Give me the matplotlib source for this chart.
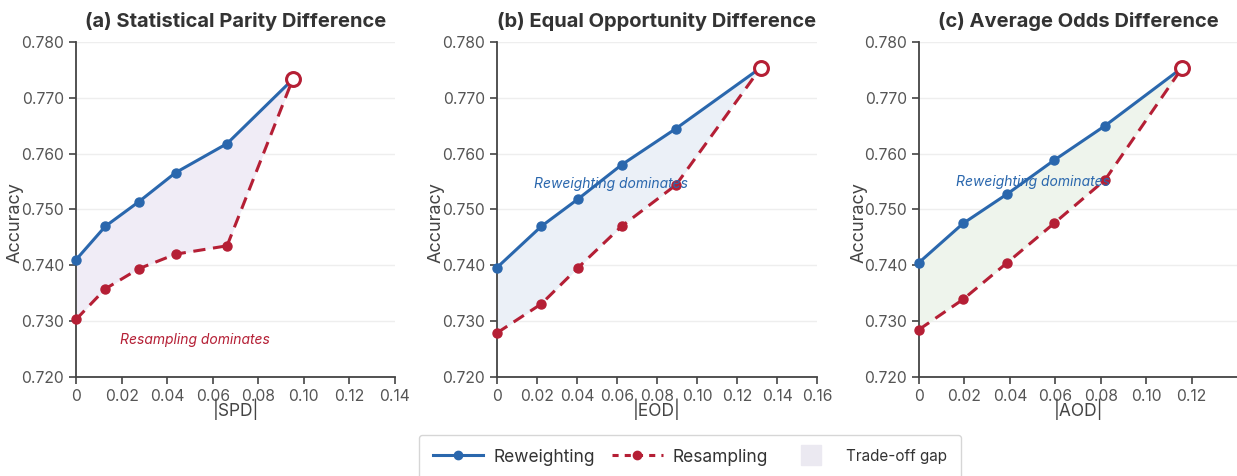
import matplotlib.pyplot as plt
from matplotlib.lines import Line2D

plt.rcParams['font.family'] = ['Inter', 'DejaVu Sans']

# values
spd_x = [0.0, 0.0129, 0.0276, 0.0437, 0.0663, 0.0951]
spd_rew = [0.7410, 0.7470, 0.7514, 0.7566, 0.7618, 0.7733]
spd_res = [0.7303, 0.7358, 0.7394, 0.7420, 0.7435, 0.7733]

eod_x = [0.0, 0.0222, 0.0406, 0.0623, 0.0895, 0.1319]
eod_rew = [0.7396, 0.7470, 0.7519, 0.7580, 0.7645, 0.7754]
eod_res = [0.7279, 0.7331, 0.7396, 0.7470, 0.7544, 0.7754]

aod_x = [0.0, 0.0194, 0.0389, 0.0594, 0.0819, 0.1159]
aod_rew = [0.7405, 0.7475, 0.7528, 0.7588, 0.7650, 0.7754]
aod_res = [0.7285, 0.7339, 0.7405, 0.7475, 0.7553, 0.7754]

titles = ["(a) Statistical Parity Difference", "(b) Equal Opportunity Difference",
          "(c) Average Odds Difference"]
xlabels = ["|SPD|", "|EOD|", "|AOD|"]
xticks = [[0, 0.02, 0.04, 0.06, 0.08, 0.10, 0.12, 0.14],
          [0, 0.02, 0.04, 0.06, 0.08, 0.10, 0.12, 0.14, 0.16],
          [0, 0.02, 0.04, 0.06, 0.08, 0.10, 0.12]]
xlims = [0.14, 0.16, 0.14]
yticks = [0.720, 0.730, 0.740, 0.750, 0.760, 0.770, 0.780]
notes = [("Resampling dominates", 0.0193, 0.7267),
         ("Reweighting dominates", 0.0185, 0.7545),
         ("Reweighting dominates", 0.0161, 0.7549)]

blue = "#2a67ad"
red = "#b51f35"
fills = ["#f0ecf6", "#ebf0f7", "#eef4ec"]
grey = "#555555"

fig = plt.figure(figsize=(12.37, 4.76), dpi=100)
lefts = [76, 497, 919]
widths = [319, 320, 318]

data = [(spd_x, spd_rew, spd_res), (eod_x, eod_rew, eod_res), (aod_x, aod_rew, aod_res)]

for i, (xs, rew, res) in enumerate(data):
    ax = fig.add_axes([lefts[i] / 1237, 1 - 377 / 476, widths[i] / 1237, 335 / 476])
    ax.fill_between(xs, res, rew, color=fills[i], zorder=1, linewidth=0)
    ax.plot(xs[:-1], rew[:-1], "-o", color=blue, lw=2.2, ms=6.5, zorder=3, clip_on=False)
    ax.plot(xs[-2:], rew[-2:], "-", color=blue, lw=2.2, zorder=3)
    ax.plot(xs[:-1], res[:-1], "--o", color=red, lw=2.2, ms=6.5, dashes=(4, 2.5), zorder=3,
            clip_on=False)
    ax.plot(xs[-2:], res[-2:], "--", color=red, lw=2.2, dashes=(4, 2.5), zorder=3)
    ax.plot(xs[-1], rew[-1], "o", ms=10, mfc="white", mec=red, mew=2.2, zorder=4)

    note, nx, ny = notes[i]
    ax.text(nx, ny, note, color=red if i == 0 else blue, fontsize=10, style="italic",
            va="center", ha="left", zorder=5)

    ax.set_xlim(0, xlims[i])
    ax.set_ylim(0.72, 0.78)
    ax.set_xticks(xticks[i])
    ax.set_xticklabels(["0"] + ["%.2f" % t for t in xticks[i][1:]])
    ax.set_yticks(yticks)
    ax.set_yticklabels(["%.3f" % t for t in yticks])
    ax.grid(axis="y", color="#eeeeee", lw=1)
    ax.set_axisbelow(True)
    for s in ["top", "right"]:
        ax.spines[s].set_visible(False)
    for s in ["left", "bottom"]:
        ax.spines[s].set_color("#444444")
        ax.spines[s].set_linewidth(1.3)
    ax.tick_params(colors="#444444", labelcolor=grey, labelsize=11.3, length=5, width=1.2)
    ax.set_title(titles[i], fontsize=14.5, fontweight="bold", color="#333333", pad=11)
    ax.set_xlabel(xlabels[i], fontsize=12.5, color="#444444", labelpad=-4)
    ax.set_ylabel("Accuracy", fontsize=13, color="#444444")
    ax.yaxis.set_label_coords(-0.163, 0.46)

handles = [Line2D([], [], color=blue, lw=2.2, marker="o", ms=6),
           Line2D([], [], color=red, lw=2.2, ls="--", dashes=(2, 2), marker="o", ms=6),
           Line2D([], [], color="#ebe9f1", ls="none", marker="s", ms=15)]
leg = fig.legend(handles, ["Reweighting", "Resampling", "Trade-off gap"], loc="center",
                 bbox_to_anchor=(690 / 1237, 1 - 457 / 476), ncol=3, frameon=True,
                 fontsize=12.5, handlelength=2.9, columnspacing=1.0, borderpad=0.8,
                 handletextpad=0.6, fancybox=True, edgecolor="#cccccc")
leg.get_texts()[2].set_fontsize(11)
for t in leg.get_texts():
    t.set_color("#333333")

fig.savefig("out.png", dpi=100)
